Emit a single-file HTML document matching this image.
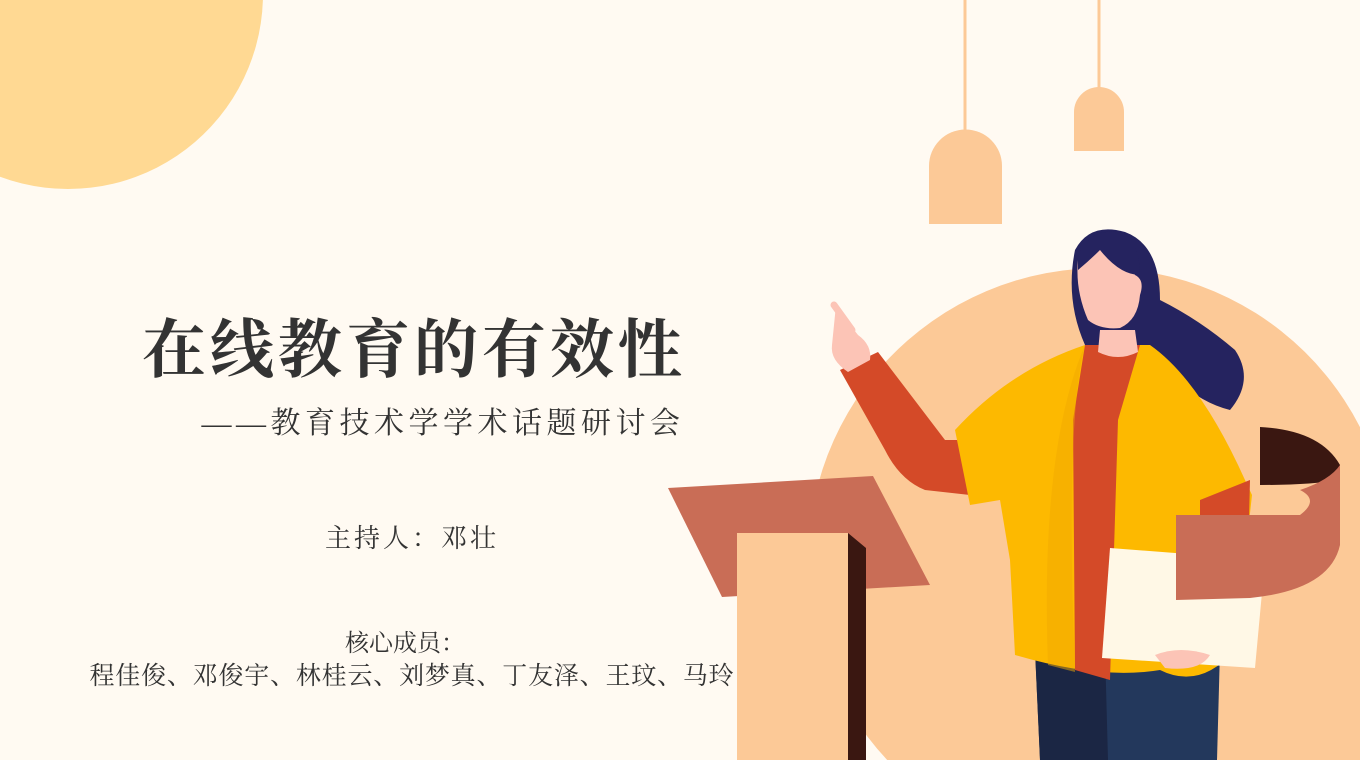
<!DOCTYPE html>
<html><head><meta charset="utf-8"><style>
html,body{margin:0;padding:0;width:1360px;height:760px;overflow:hidden;background:#FFFAF2;}
svg{display:block;position:absolute;left:0;top:0}
text{font-family:"Liberation Serif","Noto Serif CJK SC",serif;fill:#333}
</style></head><body>
<svg width="1360" height="760" viewBox="0 0 1360 760">
<rect width="1360" height="760" fill="#FFFAF2"/>
<path d="M0 0 L262.9 0 A195 195 0 0 1 0 176.8 Z" fill="#FFD993"/>
<g>
<line x1="965" y1="0" x2="965" y2="132" stroke="#FCC997" stroke-width="3"/>
<path d="M929 224 V166 A36.5 36.5 0 0 1 1002 166 V224 Z" fill="#FCC997"/>
</g>
<g>
<line x1="1099" y1="0" x2="1099" y2="90" stroke="#FCC997" stroke-width="3"/>
<path d="M1074 151 V112 A25 25 0 0 1 1124 112 V151 Z" fill="#FCC997"/>
</g>
<path d="M887.2 760 A292 292 0 1 1 1360 427.1 L1360 760 Z" fill="#FCC997"/>

<g>
<path d="M1075 250 Q1090 222 1125 232 Q1160 245 1160 300 Q1200 320 1235 350 Q1255 380 1230 410 Q1190 400 1160 360 L1085 345 Q1065 300 1075 250Z" fill="#25235F"/>
<path d="M1035 650 L1220 650 L1217 760 L1040 760Z" fill="#23385C"/>
<path d="M1035 650 L1105 650 L1108 760 L1040 760Z" fill="#1B2644"/>
<path d="M840 370 L878 352 L945 440 L968 440 L970 495 L925 490 Q900 480 885 450Z" fill="#D44A28"/>
<path d="M836 305 Q846 320 858 335 Q872 345 870 360 L848 372 Q830 360 832 345 Z" fill="#FCC4B6"/>
<line x1="834" y1="305" x2="852" y2="330" stroke="#FCC4B6" stroke-width="7" stroke-linecap="round"/>
<path d="M955 430 Q1010 370 1085 345 L1150 345 Q1200 380 1245 480 L1252 495 L1235 650 Q1200 690 1160 670 Q1100 680 1015 655 L1010 560 L1000 500 L970 505Z" fill="#FDB900"/>
<path d="M1085 345 L1140 345 L1118 420 L1110 680 L1075 670 L1073 420Z" fill="#D44A28"/>
<path d="M1085 345 Q1065 420 1075 672 L1048 665 Q1040 450 1085 345Z" fill="#F2A900" opacity="0.5"/>
<path d="M1200 500 L1250 480 L1248 560 L1225 650 L1185 645 L1200 560Z" fill="#D44A28"/>
<path d="M1100 330 L1135 330 L1138 352 Q1118 362 1098 352Z" fill="#FCC4B6"/>
<path d="M1090 240 Q1120 240 1135 275 Q1145 280 1140 295 Q1138 320 1120 328 Q1100 330 1088 320 Q1075 290 1078 260Z" fill="#FCC4B6"/>
<path d="M1078 255 Q1090 228 1120 232 Q1140 240 1140 275 Q1120 275 1100 250 Q1090 260 1078 270Z" fill="#25235F"/>
<path d="M1110 548 L1265 560 L1255 668 L1102 658Z" fill="#FFF8E6"/>
<path d="M1155 655 Q1180 645 1210 655 Q1200 672 1165 668Z" fill="#FCC4B6"/>
<path d="M1260 427 Q1320 430 1340 465 L1340 480 Q1310 485 1260 485Z" fill="#3A1711"/>
<path d="M1176 515 L1300 515 Q1320 500 1300 490 Q1330 480 1340 465 L1340 545 Q1330 590 1250 598 L1176 600Z" fill="#C96D56"/>
</g>

<g>
<path d="M668 488 L873 476 L930 585 L722 597Z" fill="#C96D56"/>
<path d="M848 533 L866 548 L866 760 L848 760Z" fill="#3A1711"/>
<rect x="737" y="533" width="111" height="227" fill="#FCC997"/>
</g>

<text x="414" y="372" font-size="64" font-weight="bold" text-anchor="middle" letter-spacing="4">在线教育的有效性</text>
<text x="443" y="433" font-size="30" text-anchor="middle" letter-spacing="4.5">——教育技术学学术话题研讨会</text>
<text x="412" y="547" font-size="26" text-anchor="middle" letter-spacing="3">主持人：邓壮</text>
<text x="405" y="651" font-size="24" text-anchor="middle">核心成员：</text>
<text x="412" y="684" font-size="25" text-anchor="middle" letter-spacing="0.8">程佳俊、邓俊宇、林桂云、刘梦真、丁友泽、王玟、马玲</text>
</svg>
</body></html>
